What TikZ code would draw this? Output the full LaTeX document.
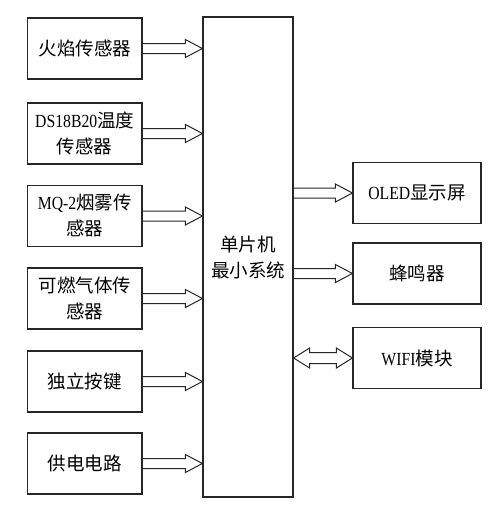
\documentclass[tikz,border=0pt]{standalone}
\usepackage{fontspec}
\setmainfont{Noto Sans CJK SC}
\newfontfamily\lat[FakeStretch=0.85]{Liberation Serif}
\usetikzlibrary{calc}
\tikzset{
  box/.style={draw=black!85, line width=1.2pt, fill=white, align=center, inner sep=0pt,
    font=\fontsize{18.5}{26}\selectfont},
  lbox/.style={box, minimum width=114.5pt, minimum height=61pt},
  rbox/.style={box, minimum width=128pt, minimum height=61pt},
  arr/.style={draw=black!85, line width=1pt, line join=miter},
  hollow/.style={arr, to path={let \p1=(\tikztostart), \p2=(\tikztotarget) in
    (\x1,\y1+5pt) -- (\x2-17pt,\y1+5pt) -- (\x2-17pt,\y1+9pt) -- (\x2,\y1)
    -- (\x2-17pt,\y1-9pt) -- (\x2-17pt,\y1-5pt) -- (\x1,\y1-5pt)}},
  hollowboth/.style={arr, to path={let \p1=(\tikztostart), \p2=(\tikztotarget) in
    (\x1,\y1) -- (\x1+16pt,\y1+10pt) -- (\x1+16pt,\y1+5.5pt) -- (\x2-16pt,\y1+5.5pt)
    -- (\x2-16pt,\y1+10pt) -- (\x2,\y1) -- (\x2-16pt,\y1-10pt) -- (\x2-16pt,\y1-5.5pt)
    -- (\x1+16pt,\y1-5.5pt) -- (\x1+16pt,\y1-10pt) -- cycle}}
}
\begin{document}
\begin{tikzpicture}[x=1pt,y=-1pt]
\useasboundingbox (0,0) rectangle (496,506);
\node[box, minimum width=90pt, minimum height=480pt] (mcu) at (248,257) {单片机\\最小系统};

\node[lbox] (s1) at (84.75,48.5) {火焰传感器};
\node[lbox] (s2) at (84.75,133.5) {{\lat DS18B20}温度\\传感器};
\node[lbox] (s3) at (84.75,216) {{\lat MQ-2}烟雾传\\感器};
\node[lbox] (s4) at (84.75,298.5) {可燃气体传\\感器};
\node[lbox] (s5) at (84.75,381.5) {独立按键};
\node[lbox] (s6) at (84.75,463.5) {供电电路};

\node[rbox] (o1) at (417,193) {{\lat OLED}显示屏};
\node[rbox] (o2) at (417,273.5) {蜂鸣器};
\node[rbox] (o3) at (417,358) {{\lat WIFI}模块};

\foreach \s in {s1,s2,s3,s4,s5,s6}
  \draw[hollow] (\s.east) to (mcu.west |- \s.east);
\draw[hollow] (mcu.east |- o1.west) to (o1.west);
\draw[hollow] (mcu.east |- o2.west) to (o2.west);
\draw[hollowboth] (mcu.east |- o3.west) to (o3.west);
\end{tikzpicture}
\end{document}
